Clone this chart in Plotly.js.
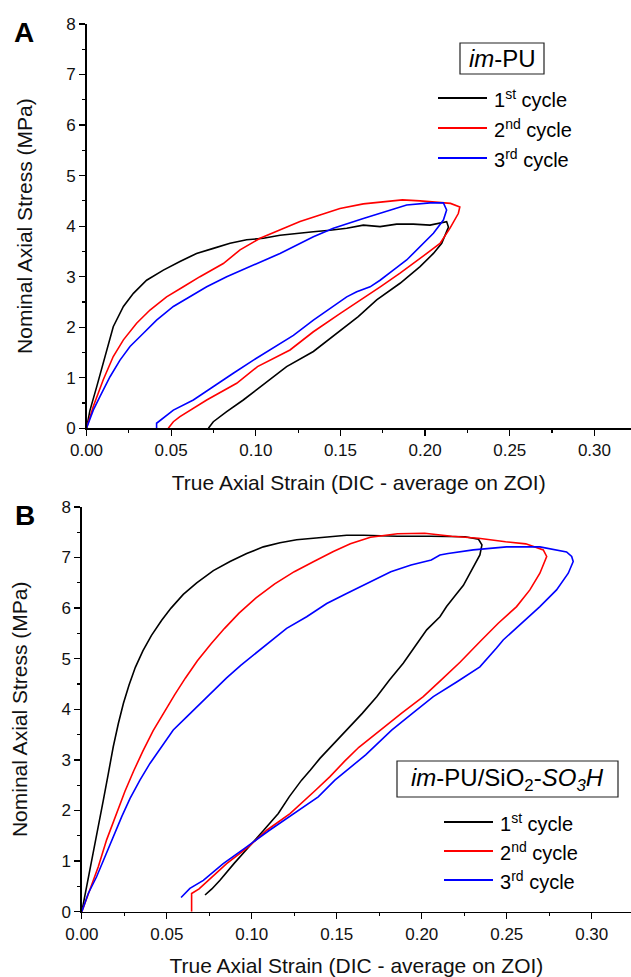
<!DOCTYPE html>
<html>
<head>
<meta charset="utf-8">
<script src="https://cdn.plot.ly/plotly-3.0.1.min.js"></script>
<style>
html,body{margin:0;padding:0;background:#fff;}
#chart{width:631px;height:977px;}
</style>
</head>
<body>
<div id="chart"></div>
<script>
// ---------- DATA ----------
const cycleNames = ['1<sup>st</sup> cycle', '2<sup>nd</sup> cycle', '3<sup>rd</sup> cycle'];
const cycleColors = ['#000000', '#ff0000', '#0000ff'];
const panelLabels = ['A', 'B'];
const materialA = '<i>im</i>-PU';
const materialB = '<i>im</i>-PU/SiO<sub>2</sub>-<i>SO<sub>3</sub>H</i>';
const xTitleText = 'True Axial Strain (DIC - average on ZOI)';
const yTitleText = 'Nominal Axial Stress (MPa)';
const xTickVals = [0, 0.05, 0.10, 0.15, 0.20, 0.25, 0.30];
const yTickVals = [0, 1, 2, 3, 4, 5, 6, 7, 8];

// Panel A: im-PU
const strainA1 = [0,0.002,0.006,0.0119,0.0158,0.0218,0.0277,0.0355,0.0454,0.0552,0.065,0.0749,0.0848,0.0946,0.1045,0.1143,0.1241,0.134,0.1438,0.1537,0.1635,0.1734,0.1832,0.193,0.2029,0.2127,
  0.2138,0.2124,0.2098,0.2049,0.197,0.1852,0.1714,0.1605,0.1478,0.134,0.1182,0.1064,0.0926,0.0828,0.0749,0.072];
const stressA1 = [0,0.35,0.82,1.55,2.01,2.41,2.67,2.93,3.13,3.30,3.46,3.56,3.66,3.73,3.76,3.82,3.86,3.89,3.92,3.96,4.02,3.99,4.04,4.04,4.02,4.09,
  3.98,3.86,3.66,3.46,3.20,2.87,2.54,2.21,1.88,1.52,1.22,0.92,0.56,0.33,0.13,0];

const strainA2 = [0,0.004,0.0099,0.0158,0.0218,0.0296,0.0375,0.0473,0.0572,0.067,0.0808,0.0907,0.1025,0.1143,0.1261,0.1379,0.1497,0.1635,0.1773,0.1866,0.197,0.207,0.215,0.2205,
  0.2196,0.2147,0.2088,0.201,0.1931,0.1852,0.1735,0.1615,0.1497,0.134,0.1202,0.101,0.0887,0.071,0.0552,0.0513,0.0483];
const stressA2 = [0,0.43,0.96,1.42,1.75,2.08,2.34,2.60,2.80,3.00,3.26,3.53,3.76,3.92,4.09,4.22,4.35,4.44,4.48,4.52,4.50,4.47,4.45,4.38,
  4.25,3.96,3.66,3.46,3.26,3.07,2.80,2.54,2.27,1.91,1.55,1.22,0.89,0.56,0.23,0.13,0];

const strainA3 = [0,0.004,0.008,0.0139,0.0198,0.0257,0.0336,0.0414,0.0513,0.0611,0.071,0.0828,0.0986,0.1143,0.134,0.1458,0.1635,0.1773,0.1891,0.2029,0.2108,0.2127,
  0.2108,0.2049,0.197,0.1891,0.1812,0.1734,0.1675,0.1596,0.1537,0.134,0.1222,0.1104,0.0986,0.0867,0.0749,0.0631,0.0513,0.0453,0.0414,0.0414];
const stressA3 = [0,0.36,0.63,1.02,1.35,1.62,1.88,2.14,2.41,2.60,2.80,3.00,3.23,3.46,3.79,3.96,4.15,4.29,4.42,4.46,4.46,4.32,
  4.12,3.86,3.59,3.33,3.13,2.93,2.80,2.70,2.60,2.14,1.84,1.60,1.35,1.09,0.82,0.56,0.36,0.20,0.10,0];

// Panel B: im-PU/SiO2-SO3H
const strainB1 = [0,0.0029,0.0068,0.0097,0.0127,0.0156,0.0185,0.0215,0.0245,0.0278,0.0315,0.036,0.041,0.047,0.0525,0.0597,0.0676,0.0774,0.0872,0.097,0.1068,0.1166,0.1264,0.1362,0.146,0.1558,0.1659,0.1855,0.2051,0.2254,0.2334,0.2354,
  0.2342,0.231,0.2284,0.2245,0.219,0.2146,0.2107,0.2029,0.196,0.1891,0.181,0.1735,0.165,0.1558,0.148,0.1401,0.1345,0.1293,0.122,0.1156,0.107,0.098,0.0895,0.0813,0.0765,0.0725];
const stressB1 = [0,0.49,1.15,1.68,2.21,2.73,3.26,3.72,4.12,4.48,4.83,5.16,5.46,5.76,6.00,6.27,6.50,6.74,6.92,7.08,7.21,7.29,7.35,7.38,7.41,7.44,7.44,7.42,7.42,7.41,7.36,7.25,
  7.05,6.85,6.69,6.45,6.22,6.03,5.83,5.57,5.24,4.91,4.58,4.25,3.92,3.59,3.30,3.03,2.80,2.60,2.27,1.94,1.61,1.28,0.95,0.62,0.45,0.33];

const strainB2 = [0,0.0048,0.0097,0.0146,0.0205,0.0254,0.0305,0.036,0.042,0.048,0.0545,0.061,0.068,0.0762,0.084,0.0925,0.1025,0.1135,0.125,0.1365,0.148,0.158,0.1698,0.1857,0.2017,0.2176,0.2334,0.2493,0.2612,0.2715,0.2735,
  0.2695,0.2636,0.2558,0.245,0.2352,0.2294,0.2225,0.2115,0.2009,0.188,0.1754,0.163,0.1545,0.146,0.1375,0.1225,0.1088,0.098,0.0852,0.0744,0.069,0.0646,0.0646];
const stressB2 = [0,0.43,0.89,1.42,1.94,2.38,2.78,3.18,3.58,3.92,4.28,4.62,4.96,5.30,5.60,5.90,6.20,6.48,6.72,6.92,7.12,7.27,7.40,7.47,7.48,7.42,7.38,7.31,7.27,7.15,7.02,
  6.69,6.36,6.03,5.70,5.37,5.17,4.93,4.58,4.25,3.92,3.59,3.25,2.97,2.67,2.40,1.94,1.61,1.28,0.95,0.62,0.45,0.36,0];

const strainB3 = [0,0.0038,0.0087,0.0136,0.0186,0.0235,0.0284,0.0342,0.0401,0.047,0.0538,0.0617,0.0695,0.0774,0.0852,0.0935,0.1009,0.1107,0.1205,0.1323,0.1441,0.1558,0.1676,0.1818,0.1937,0.2056,0.2107,0.2155,0.2303,0.2499,0.2695,0.2852,0.2882,0.2891,
  0.2862,0.2793,0.2695,0.2588,0.2479,0.244,0.2342,0.221,0.2068,0.1945,0.1823,0.167,0.1489,0.1391,0.1245,0.11,0.097,0.0832,0.0715,0.0636,0.0584];
const stressB3 = [0,0.36,0.69,1.09,1.48,1.88,2.24,2.60,2.93,3.26,3.59,3.85,4.11,4.37,4.62,4.87,5.07,5.33,5.60,5.83,6.09,6.29,6.49,6.72,6.85,6.95,7.05,7.08,7.15,7.21,7.21,7.11,7.02,6.92,
  6.69,6.36,6.03,5.70,5.37,5.21,4.84,4.55,4.25,3.92,3.59,3.10,2.60,2.27,1.94,1.60,1.28,0.95,0.62,0.46,0.28];

const panelAStrain = [strainA1, strainA2, strainA3];
const panelAStress = [stressA1, stressA2, stressA3];
const panelBStrain = [strainB1, strainB2, strainB3];
const panelBStress = [stressB1, stressB2, stressB3];

// ---------- LAYOUT HELPERS ----------
const W = 631, H = 977;
const fx = p => p / W;          // pixel -> paper x
const fy = p => 1 - p / H;      // pixel -> paper y
const FONT = 'Liberation Sans, Arial, Helvetica, sans-serif';

const traces = [];
panelAStrain.forEach((xs, i) => traces.push({
  type: 'scatter', mode: 'lines', x: xs, y: panelAStress[i], xaxis: 'x', yaxis: 'y',
  name: cycleNames[i], line: {color: cycleColors[i], width: 1.6}, showlegend: false, cliponaxis: true
}));
panelBStrain.forEach((xs, i) => traces.push({
  type: 'scatter', mode: 'lines', x: xs, y: panelBStress[i], xaxis: 'x2', yaxis: 'y2',
  name: cycleNames[i], line: {color: cycleColors[i], width: 1.6}, showlegend: false, cliponaxis: true
}));

function xAxis(domain, range, anchor) {
  return {
    domain: domain, range: range, anchor: anchor, showgrid: false, zeroline: false,
    showline: true, linecolor: '#000', linewidth: 1.5,
    ticks: 'outside', ticklen: 6, tickwidth: 1.3, tickcolor: '#000',
    tickvals: xTickVals, ticktext: xTickVals.map(v => v.toFixed(2)),
    minor: {dtick: 0.025, tick0: 0, ticks: 'outside', ticklen: 3, tickwidth: 1.2, tickcolor: '#000'},
    tickfont: {family: FONT, size: 17, color: '#111'},
    title: {text: xTitleText, font: {family: FONT, size: 21, color: '#111'}, standoff: 16},
    automargin: false, fixedrange: true
  };
}
function yAxis(domain, anchor) {
  return {
    domain: domain, range: [0, 8], anchor: anchor, showgrid: false, zeroline: false,
    showline: true, linecolor: '#000', linewidth: 1.5,
    ticks: 'outside', ticklen: 6, tickwidth: 1.3, tickcolor: '#000',
    tickvals: yTickVals,
    minor: {dtick: 0.5, tick0: 0, ticks: 'outside', ticklen: 3, tickwidth: 1.2, tickcolor: '#000'},
    tickfont: {family: FONT, size: 17, color: '#111'},
    title: {text: yTitleText, font: {family: FONT, size: 21, color: '#111'}, standoff: 28},
    automargin: false, fixedrange: true
  };
}

const shapes = [];
const annotations = [];

// panel labels
[[24, 33], [25, 515]].forEach((p, i) => annotations.push({
  xref: 'paper', yref: 'paper', x: fx(p[0]), y: fy(p[1]), xanchor: 'center', yanchor: 'middle',
  text: '<b>' + panelLabels[i] + '</b>', showarrow: false, font: {family: FONT, size: 28, color: '#000'}
}));

// material boxes
function materialBox(x0, y0, x1, y1, text) {
  shapes.push({type: 'rect', xref: 'paper', yref: 'paper', x0: fx(x0), x1: fx(x1), y0: fy(y1), y1: fy(y0),
    line: {color: '#222', width: 1.2}, fillcolor: 'rgba(0,0,0,0)'});
  annotations.push({xref: 'paper', yref: 'paper', x: fx((x0 + x1) / 2), y: fy((y0 + y1) / 2),
    xanchor: 'center', yanchor: 'middle', text: text, showarrow: false,
    font: {family: FONT, size: 24, color: '#000'}});
}
materialBox(460, 43, 544, 74, materialA);
materialBox(397, 761, 618, 797, materialB);

// legend entries
function legendBlock(lx0, lx1, tx, ys) {
  ys.forEach((y, i) => {
    shapes.push({type: 'line', xref: 'paper', yref: 'paper', x0: fx(lx0), x1: fx(lx1), y0: fy(y), y1: fy(y),
      line: {color: cycleColors[i], width: 2}});
    annotations.push({xref: 'paper', yref: 'paper', x: fx(tx), y: fy(y), xanchor: 'left', yanchor: 'middle',
      text: cycleNames[i], showarrow: false, font: {family: FONT, size: 20, color: '#000'}});
  });
}
legendBlock(438, 487, 492, [98, 128, 158]);
legendBlock(444, 493, 498, [822, 851, 880]);

const layout = {
  width: W, height: H, autosize: false,
  margin: {l: 0, r: 0, t: 0, b: 0, pad: 0},
  paper_bgcolor: '#ffffff', plot_bgcolor: '#ffffff',
  font: {family: FONT, color: '#000'},
  showlegend: false,
  xaxis: xAxis([fx(86.5), 1], [0, 0.3216], 'y'),
  yaxis: yAxis([fy(428.3), fy(24)], 'x'),
  xaxis2: xAxis([fx(81.8), 1], [0, 0.3231], 'y2'),
  yaxis2: yAxis([fy(911.7), fy(506.9)], 'x2'),
  shapes: shapes,
  annotations: annotations
};

Plotly.newPlot('chart', traces, layout, {displayModeBar: false, staticPlot: true});
</script>
</body>
</html>
